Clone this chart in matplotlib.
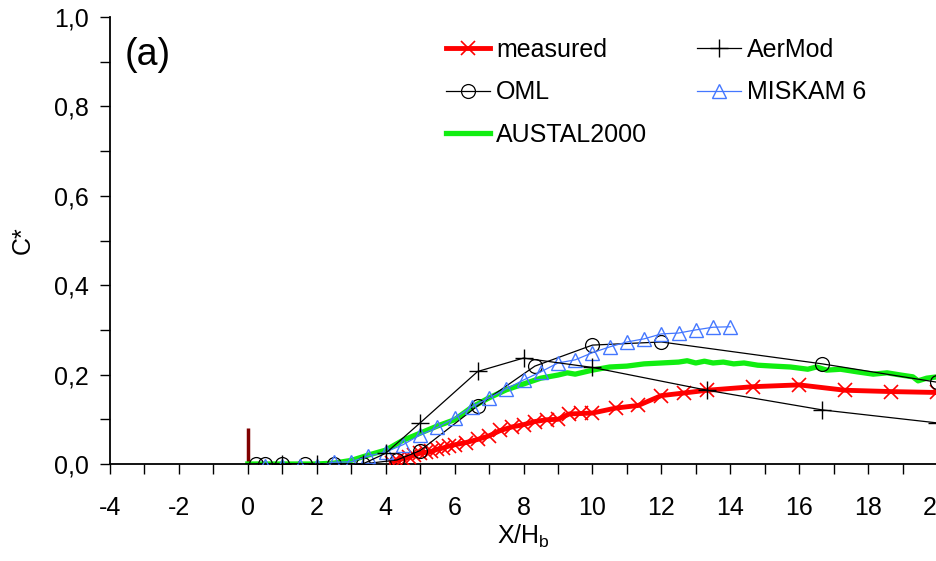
import numpy as np
import matplotlib
matplotlib.use('Agg')
import matplotlib.pyplot as plt
from matplotlib.ticker import MultipleLocator, FuncFormatter

plt.rcParams['font.family'] = ['Liberation Sans', 'DejaVu Sans']
plt.rcParams['mathtext.default'] = 'regular'

# measured (wind tunnel)
meas_x = [4.17, 4.33, 4.5, 4.67, 4.83, 5.0, 5.17, 5.33, 5.5, 5.67, 5.83, 6.0, 6.33, 6.67,
          7.0, 7.33, 7.67, 8.0, 8.33, 8.67, 9.0, 9.33, 9.67, 10.0, 10.67, 11.33, 12.0,
          12.67, 13.33, 14.67, 16.0, 17.33, 18.67, 20.0]
meas_y = [0.003, 0.008, 0.012, 0.015, 0.02, 0.024, 0.026, 0.028, 0.033, 0.036, 0.04, 0.043,
          0.048, 0.055, 0.063, 0.075, 0.083, 0.088, 0.095, 0.099, 0.1, 0.112, 0.113, 0.114,
          0.125, 0.131, 0.153, 0.159, 0.165, 0.173, 0.177, 0.165, 0.162, 0.16]

aermod_x = [1.0, 2.0, 3.33, 4.0, 5.0, 6.67, 8.0, 10.0, 13.33, 16.67, 20.0]
aermod_y = [0.0, 0.0, 0.0, 0.024, 0.092, 0.207, 0.237, 0.216, 0.165, 0.121, 0.092]

oml_x = [0.25, 0.5, 1.0, 1.67, 2.5, 3.33, 4.33, 5.0, 6.67, 8.33, 10.0, 12.0, 16.67, 20.0]
oml_y = [0.0, 0.0, 0.0, 0.0, 0.0, 0.0, 0.009, 0.030, 0.130, 0.219, 0.266, 0.273, 0.224, 0.183]

miskam_x = [0.5, 1.0, 1.5, 2.0, 2.5, 3.0, 3.5, 4.0, 4.5, 5.0, 5.5, 6.0, 6.5, 7.0, 7.5, 8.0,
            8.5, 9.0, 9.5, 10.0, 10.5, 11.0, 11.5, 12.0, 12.5, 13.0, 13.5, 14.0]
miskam_y = [-0.004, -0.004, -0.004, -0.004, 0.004, 0.005, 0.018, 0.027, 0.043, 0.065, 0.082,
            0.103, 0.128, 0.148, 0.168, 0.188, 0.206, 0.226, 0.233, 0.249, 0.262, 0.273, 0.280,
            0.291, 0.293, 0.300, 0.306, 0.307]

austal_x = [0.0, 0.5, 1.0, 1.5, 2.0, 2.5, 3.0, 3.5, 4.0, 4.5, 5.0, 5.5, 6.0, 6.5, 7.0, 7.5,
            8.0, 8.5, 9.0, 9.27, 9.5, 10.0, 10.5, 11.0, 11.5, 12.0, 12.5, 12.75, 13.0, 13.25,
            13.5, 13.8, 14.1, 14.4, 14.8, 15.25, 15.75, 16.25, 16.5, 16.8, 17.2, 17.7, 18.15,
            18.55, 18.95, 19.3, 19.45, 19.7, 20.0]
austal_y = [0.0, 0.0, 0.0, 0.0, 0.0, 0.002, 0.008, 0.02, 0.031, 0.053, 0.069, 0.085, 0.099,
            0.127, 0.148, 0.166, 0.179, 0.192, 0.199, 0.204, 0.201, 0.21, 0.217, 0.219, 0.224,
            0.226, 0.228, 0.231, 0.226, 0.23, 0.226, 0.228, 0.224, 0.226, 0.221, 0.219, 0.217,
            0.212, 0.217, 0.21, 0.212, 0.206, 0.201, 0.204, 0.199, 0.195, 0.186, 0.192, 0.195]

# building marker at x = 0
building_x = [0.0, 0.0]
building_y = [0.0, 0.08]

fig = plt.figure(figsize=(9.37, 5.61), dpi=100)
ax = fig.add_axes([0.1174, 0.1729, 0.8826, 0.7968])

ax.plot(building_x, building_y, color='#800000', linewidth=2.5, solid_capstyle='butt', zorder=2)
ax.plot(meas_x, meas_y, color='#ff0000', linewidth=3.5, marker='x', markersize=10,
        markeredgewidth=1.2, label='measured', zorder=3)
ax.plot(oml_x, oml_y, color='black', linewidth=0.9, marker='o', markersize=10,
        markerfacecolor='none', markeredgewidth=0.9, label='OML', zorder=4)
ax.plot(austal_x, austal_y, color='#11ee11', linewidth=3.8, label='AUSTAL2000', zorder=2)
ax.plot(aermod_x, aermod_y, color='black', linewidth=0.9, marker='+', markersize=13,
        markeredgewidth=1.0, label='AerMod', zorder=5)
ax.plot(miskam_x, miskam_y, color='#4477ff', linewidth=0.9, marker='^', markersize=10,
        markerfacecolor='none', markeredgewidth=1.0, label='MISKAM 6', zorder=4)

ax.set_xlim(-4, 20)
ax.set_ylim(0, 1.0)
ax.xaxis.set_major_locator(MultipleLocator(2))
ax.xaxis.set_minor_locator(MultipleLocator(1))
ax.yaxis.set_major_locator(MultipleLocator(0.2))
ax.yaxis.set_minor_locator(MultipleLocator(0.1))
ax.yaxis.set_major_formatter(FuncFormatter(lambda v, p: ('%.1f' % v).replace('.', ',')))
ax.xaxis.set_major_formatter(FuncFormatter(lambda v, p: '%d' % v))
ax.tick_params(axis='both', which='both', direction='out', labelsize=18, width=1.0, length=7)
ax.tick_params(axis='x', which='major', pad=16)
ax.tick_params(axis='y', which='major', pad=8)
ax.spines['top'].set_visible(False)
ax.spines['right'].set_visible(False)
for s in ['left', 'bottom']:
    ax.spines[s].set_linewidth(1.3)

ax.set_xlabel('X/H$_b$', fontsize=18, labelpad=2)
ax.set_ylabel('C*', fontsize=18, labelpad=14)
ax.text(0.018, 0.915, '(a)', transform=ax.transAxes, fontsize=27, va='center', ha='left')

h, l = ax.get_legend_handles_labels()
order = [l.index(n) for n in ['measured', 'OML', 'AUSTAL2000', 'AerMod', 'MISKAM 6']]
ax.legend([h[i] for i in order], [l[i] for i in order], ncol=2, frameon=False,
          fontsize=18, loc='upper left', bbox_to_anchor=(0.385, 0.993),
          handlelength=1.75, handletextpad=0.25, columnspacing=2.0, labelspacing=0.75,
          borderpad=0.2)

plt.savefig('out.png', dpi=100)
plt.close()
